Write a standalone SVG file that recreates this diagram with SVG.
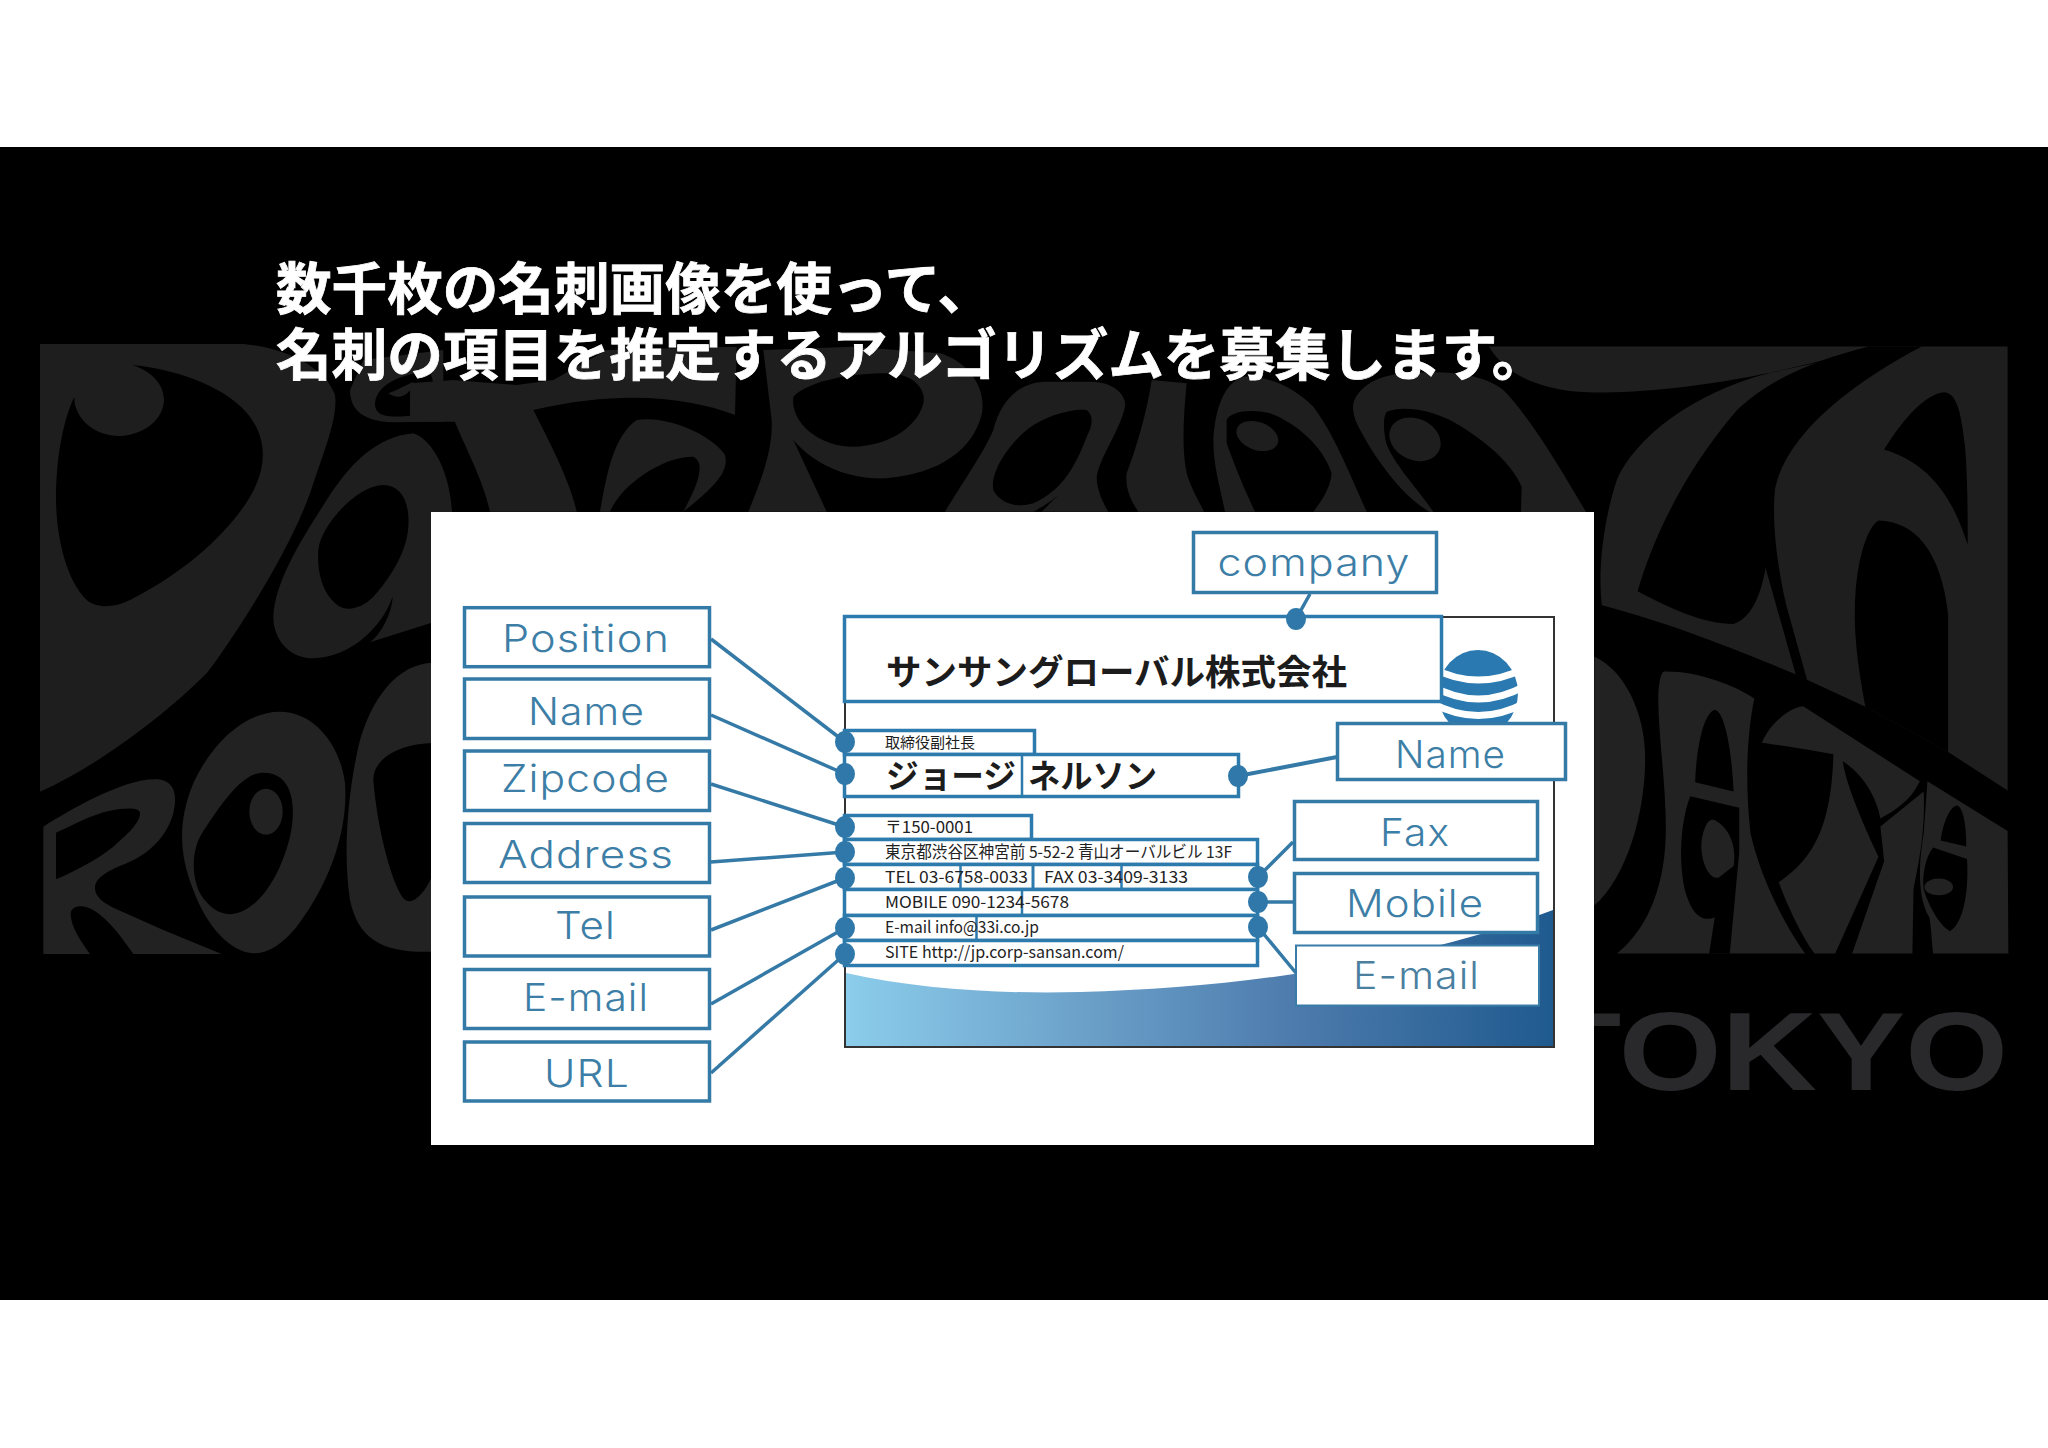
<svg xmlns="http://www.w3.org/2000/svg" width="2048" height="1448" viewBox="0 0 2048 1448">
<style>
.a{fill:#1e1e1e}.k{fill:#000}.g{fill:#222}
.b{fill:#fff;stroke:#347aa6;stroke-width:3.5}
.r{fill:#fff;stroke:#2d7aac;stroke-width:3.5}
.d{fill:#2f78a9}
.c line{stroke:#357aa6;stroke-width:3.5}
.l{font-family:Inter,"Noto Sans",sans-serif;font-size:38.5px;fill:#3d7ea6;font-weight:300;letter-spacing:1px}
.t{font-family:"Noto Sans CJK JP",sans-serif;font-size:16.5px;fill:#222}
.j{font-family:"Noto Sans CJK JP",sans-serif;fill:#1c1c1c}
.h{font-family:"Noto Sans CJK JP",sans-serif;font-size:55.6px;font-weight:700;fill:#fff;stroke:#fff;stroke-width:.8}
</style>
<defs>
<linearGradient id="w" gradientUnits="userSpaceOnUse" x1="845" y1="0" x2="1554" y2="0">
<stop offset="0" stop-color="#8ccdeb"/><stop offset=".35" stop-color="#6a9fc8"/><stop offset=".65" stop-color="#4b79ab"/><stop offset="1" stop-color="#1f5a8f"/>
</linearGradient>
</defs>
<rect width="2048" height="1448" fill="#fff"/>
<rect y="147" width="2048" height="1153" fill="#000"/>
<g id="art">
<g transform="translate(30 340) scale(.33333)">
<path class="a" d="M30 12L640 12C780 25 890 90 915 165C925 230 880 340 850 430C810 560 700 760 560 960L530 1000C400 1130 200 1280 30 1355Z"/>
<path class="k" d="M305 75C460 90 600 150 660 230C710 300 705 370 680 430C640 530 500 680 300 780C250 805 200 805 170 780C110 720 80 600 78 480C78 350 100 240 133 170C130 230 190 290 270 288C340 285 400 240 402 180C402 130 360 90 305 75Z"/>
<path class="a" d="M1150 280C1040 290 960 370 890 480C820 590 735 720 730 830C730 900 780 955 850 955C900 955 960 930 1000 895C1040 860 1070 820 1088 770C1085 820 1055 880 1020 907L1200 850L1266 830L1266 516C1260 400 1210 300 1150 280Z"/>
<path class="k" d="M1060 435C1110 435 1140 480 1135 560C1130 640 1075 720 1030 770C1000 800 960 815 930 800C880 770 860 700 865 630C870 560 980 435 1060 435Z"/>
<path class="a" d="M960 150C960 210 1000 245 1090 247L1240 245L1240 30L1000 60Z"/>
<path class="k" d="M1035 190C1040 130 1120 100 1200 95C1215 130 1210 170 1235 205C1170 230 1090 235 1060 225C1040 220 1035 205 1035 190Z"/>
<path class="a" d="M1075 160C1100 150 1130 135 1150 125C1145 160 1110 185 1075 160Z"/>
</g>
<g transform="translate(30 650) scale(.33333)">
<path class="g" fill-rule="evenodd" d="M40 530C120 480 280 385 380 388C430 390 445 430 430 490C410 560 360 610 290 640C240 660 195 680 195 715C195 740 220 760 260 778L400 840L575 912L310 912C280 870 240 810 190 780C160 762 125 765 122 790C122 830 150 870 180 912L40 912ZM78 548L78 688C140 660 200 630 250 590C290 555 330 520 330 490C330 470 280 475 240 482C180 495 130 525 78 548Z"/>
<path class="g" fill-rule="evenodd" d="M750 185C850 185 930 280 945 400C955 540 900 700 800 830C750 890 710 910 670 910C600 905 530 830 490 720C450 620 440 520 490 400C550 270 650 185 750 185ZM700 368C640 368 580 450 510 560C485 610 485 680 510 730C540 780 580 800 620 790C690 770 750 680 780 560C800 470 790 368 700 368Z"/>
<ellipse class="g" cx="708" cy="485" rx="50" ry="69"/>
<path class="g" fill-rule="evenodd" d="M1210 38C1100 40 1020 150 985 290C950 450 940 620 960 750C985 870 1060 910 1210 905ZM1210 280C1120 280 1030 320 1030 390C1040 520 1080 690 1120 745C1150 775 1190 720 1210 670Z"/>
</g>
<g transform="translate(420 340) scale(.33333)">
<path class="a" d="M-30 130L100 120L290 135L400 120L560 30L950 20L945 225C800 170 600 150 340 210C380 290 450 420 470 515L210 515C190 420 130 310 105 245L-30 245Z"/>
<path class="a" d="M540 515C560 400 580 290 650 240C750 225 880 290 915 345C930 400 870 450 790 515Z"/>
<path class="k" d="M570 515C600 440 720 350 820 350C860 370 830 440 790 515Z"/>
<path class="a" d="M1030 30L1300 20L1560 40C1630 60 1700 130 1686 220C1660 330 1560 400 1400 415C1280 420 1180 370 1120 300L1220 515L985 515C1020 430 1060 330 1055 240Z"/>
<path class="k" d="M1120 170C1170 120 1300 100 1400 100C1470 100 1520 140 1510 190C1490 270 1390 320 1300 320C1200 320 1110 250 1120 170Z"/>
</g>
<g transform="translate(930 340) scale(.33333)">
<path class="a" d="M45 515C90 440 160 340 190 270C210 190 260 130 340 125L490 125C560 130 590 170 585 200C570 270 510 350 500 410C500 450 520 490 535 515Z"/>
<path class="k" d="M470 210C490 225 490 255 470 290C440 370 400 450 310 490C260 505 210 490 190 450C180 400 230 320 290 270C340 230 420 205 470 210Z"/>
<path class="k" d="M390 460C370 480 350 500 335 515L310 515C340 500 370 480 390 460Z"/>
<path class="a" d="M665 120L770 130C760 230 755 330 770 400C785 450 810 490 822 515L625 515C600 480 585 440 590 400C620 320 650 220 665 120Z"/>
<path class="a" d="M940 110C1020 105 1100 150 1150 200C1210 280 1250 380 1310 515L885 515C870 440 850 380 850 300C855 210 880 130 940 110Z"/>
<path class="k" d="M890 240C900 215 960 205 1020 220C1100 250 1180 320 1205 400C1200 450 1170 490 1150 515L975 515C950 460 930 420 890 310Z"/>
<ellipse class="a" cx="982" cy="288" rx="65" ry="42" transform="rotate(20 982 288)"/>
<path class="a" d="M1270 190C1290 130 1360 100 1440 100C1540 90 1660 100 1720 150C1800 230 1900 400 1968 516L1500 516C1430 480 1340 370 1280 250C1270 225 1268 205 1270 190Z"/>
<path class="k" d="M1370 215C1420 195 1500 210 1560 240C1650 290 1740 360 1775 440L1773 516L1510 516C1460 440 1370 350 1365 290C1360 260 1360 230 1370 215Z"/>
<ellipse class="a" cx="1455" cy="298" rx="80" ry="62" transform="rotate(25 1455 298)"/>
</g>
<g transform="translate(1440 340) scale(.3764 .4655)">
<path class="a" d="M130 14L1140 14C1050 40 960 55 880 70C700 100 500 120 350 110C250 100 170 70 130 14Z"/>
<path class="a" d="M880 70C730 100 540 180 470 300C430 400 420 500 430 570C620 610 800 670 945 718L975 730L1130 788L1350 885L1508 968L1508 14L1140 14C1050 45 960 55 880 70Z"/>
<path class="k" d="M1140 14L1280 14C1100 90 920 200 890 320C880 400 900 500 920 570L975 730L945 718L865 490C850 560 820 600 780 610C700 610 620 580 525 540C560 440 640 290 790 150C880 80 1010 40 1140 14Z"/>
<path class="k" d="M1340 112C1375 115 1385 160 1395 230C1402 300 1402 380 1402 440C1370 360 1320 270 1180 235C1230 170 1290 115 1340 112Z"/>
<path class="k" d="M1165 388C1260 390 1330 450 1350 590L1350 885L1130 788C1110 700 1095 620 1105 530C1115 450 1140 400 1165 388Z"/>
<path class="g" d="M410 680C490 710 545 800 545 900C545 1010 500 1150 410 1215Z"/>
<path class="g" d="M595 712C680 710 780 740 835 770C815 850 810 950 825 1060C850 1150 910 1250 970 1318L470 1318C560 1260 600 1160 600 1050C600 950 580 850 580 770C580 730 590 712 595 712Z"/>
<path class="k" d="M730 795C755 795 775 880 780 970L678 950C680 880 700 800 730 795Z"/>
<path class="k" d="M665 980L795 1005L795 1100L770 1318L715 1318L730 1240C700 1250 670 1240 650 1180C630 1100 645 1020 665 980Z"/>
<path class="g" d="M725 1030C760 1040 790 1080 780 1130L740 1155C710 1160 690 1110 695 1075C700 1050 710 1030 725 1030Z"/>
<path class="g" d="M855 865C880 820 930 790 965 787L1275 948C1250 990 1210 1010 1170 1028C1160 980 1120 930 1070 905C1080 960 1130 1050 1165 1110L1050 1318L995 1318C960 1280 920 1210 900 1165C980 1120 1040 1060 1045 890C980 880 900 870 855 865Z"/>
<path class="g" d="M1170 1045L1285 970C1290 1060 1270 1130 1258 1180L1255 1318L1095 1318L1180 1120Z"/>
<path class="g" d="M1295 948L1508 1055L1510 1318L1310 1318C1305 1280 1305 1260 1300 1240C1270 1200 1270 1130 1285 1060Z"/>
<path class="k" d="M1375 1000C1395 1010 1398 1060 1398 1088L1330 1075C1335 1040 1355 1000 1375 1000Z"/>
<path class="k" d="M1310 1090L1400 1115C1405 1170 1395 1250 1355 1270C1330 1260 1300 1220 1285 1180C1280 1150 1290 1110 1310 1090Z"/>
<ellipse class="g" cx="1325" cy="1175" rx="38" ry="18"/>
</g>
<text transform="translate(2008 1090) scale(1.18 1)" text-anchor="end" font-family="Liberation Sans, sans-serif" font-weight="700" font-size="112" fill="#29292b">TOKYO</text>
</g>
<g id="heading">
<text class="h" x="276" y="309">数千枚の名刺画像を使って、</text>
<text class="h" x="276" y="375">名刺の項目を推定するアルゴリズムを募集します。</text>
</g>
<rect id="panel" x="431" y="512" width="1163" height="633" fill="#fff"/>
<g id="card">
<rect x="845" y="617" width="709" height="430" fill="#fff" stroke="#333" stroke-width="2"/>
<path fill="url(#w)" d="M846 973C920 990 1010 994 1080 992C1250 988 1420 960 1553 910L1553 1046L846 1046Z"/>
<g id="logo">
<ellipse cx="1478" cy="693" rx="40" ry="43" fill="#2a79b0"/>
<path d="M1432 668Q1478 692 1525 668M1432 686Q1478 712 1525 686M1432 703Q1478 728 1525 703" fill="none" stroke="#fff" stroke-width="7"/>
</g>
</g>
<g id="label-position"><rect class="b" x="464.5" y="607.7" width="245" height="59"/><text class="l" x="502" y="652" textLength="168" lengthAdjust="spacingAndGlyphs">Position</text></g>
<g id="label-name"><rect class="b" x="464.5" y="679" width="245" height="59.5"/><text class="l" x="528" y="725" textLength="117" lengthAdjust="spacingAndGlyphs">Name</text></g>
<g id="label-zipcode"><rect class="b" x="464.5" y="751" width="245" height="59.5"/><text class="l" x="501" y="792" textLength="169" lengthAdjust="spacingAndGlyphs">Zipcode</text></g>
<g id="label-address"><rect class="b" x="464.5" y="823.5" width="245" height="59"/><text class="l" x="498" y="868" textLength="176" lengthAdjust="spacingAndGlyphs">Address</text></g>
<g id="label-tel"><rect class="b" x="464.5" y="897" width="245" height="59"/><text class="l" x="555" y="939" textLength="61" lengthAdjust="spacingAndGlyphs">Tel</text></g>
<g id="label-email"><rect class="b" x="464.5" y="969.5" width="245" height="59"/><text class="l" x="523" y="1011" textLength="126" lengthAdjust="spacingAndGlyphs">E-mail</text></g>
<g id="label-url"><rect class="b" x="464.5" y="1042" width="245" height="59"/><text class="l" x="544" y="1087" textLength="86" lengthAdjust="spacingAndGlyphs">URL</text></g>
<g id="label-company"><rect class="b" x="1193.5" y="532.5" width="243" height="60"/><text class="l" x="1217.5" y="576" textLength="193" lengthAdjust="spacingAndGlyphs">company</text></g>
<g id="label-name-right"><rect class="b" x="1337.5" y="723.5" width="228" height="56"/><text class="l" x="1395" y="768" textLength="111" lengthAdjust="spacingAndGlyphs">Name</text></g>
<g id="label-fax"><rect class="b" x="1294.5" y="801.5" width="243" height="58"/><text class="l" x="1380" y="846" textLength="70" lengthAdjust="spacingAndGlyphs">Fax</text></g>
<g id="label-mobile"><rect class="b" x="1294.5" y="873.5" width="243" height="59"/><text class="l" x="1346" y="917" textLength="138" lengthAdjust="spacingAndGlyphs">Mobile</text></g>
<g id="label-email-right"><rect x="1296" y="945.5" width="243" height="60" fill="#fff" stroke="#3a7ca8" stroke-width="2"/><text class="l" x="1353" y="989" textLength="127" lengthAdjust="spacingAndGlyphs" style="fill:#4a7fa0">E-mail</text></g>
<g id="field-company"><rect class="r" x="844.5" y="616.5" width="597" height="85"/><text class="j" x="886" y="684.5" font-size="35.5" font-weight="700" textLength="461" lengthAdjust="spacingAndGlyphs">サンサングローバル株式会社</text></g>
<g id="field-position"><rect class="r" x="844.5" y="730.5" width="190" height="24"/><text class="j" x="885" y="748" font-size="15" textLength="90" lengthAdjust="spacingAndGlyphs">取締役副社長</text></g>
<g id="field-name"><rect class="r" x="844.5" y="754.5" width="394" height="42"/><line x1="1022" y1="754" x2="1022" y2="798" stroke="#2d7aac" stroke-width="2.5"/><text class="j" x="886" y="788" font-size="33" font-weight="700" textLength="130" lengthAdjust="spacingAndGlyphs">ジョージ</text><text class="j" x="1028" y="788" font-size="33" font-weight="700" textLength="129" lengthAdjust="spacingAndGlyphs">ネルソン</text></g>
<g id="field-zipcode"><rect class="r" x="844.5" y="815.5" width="187" height="24"/><text class="t" x="885" y="833" textLength="88" lengthAdjust="spacingAndGlyphs">〒150-0001</text></g>
<g id="field-address"><rect class="r" x="844.5" y="839.5" width="413" height="25"/><text class="t" x="885" y="858" textLength="347" lengthAdjust="spacingAndGlyphs">東京都渋谷区神宮前 5-52-2 青山オーバルビル 13F</text></g>
<g id="field-tel"><rect class="r" x="844.5" y="864.5" width="413" height="25"/><line x1="960.5" y1="864" x2="960.5" y2="890" stroke="#2d7aac" stroke-width="2.5"/><line x1="1033" y1="864" x2="1033" y2="890" stroke="#2d7aac" stroke-width="3"/><line x1="1121.5" y1="864" x2="1121.5" y2="890" stroke="#2d7aac" stroke-width="2.5"/><text class="t" x="885" y="883" textLength="143" lengthAdjust="spacingAndGlyphs">TEL 03-6758-0033</text><text class="t" x="1044" y="883" textLength="144" lengthAdjust="spacingAndGlyphs">FAX 03-3409-3133</text></g>
<g id="field-mobile"><rect class="r" x="844.5" y="889.5" width="413" height="26"/><line x1="1022" y1="889" x2="1022" y2="915" stroke="#2d7aac" stroke-width="2.5"/><text class="t" x="885" y="908" textLength="184" lengthAdjust="spacingAndGlyphs">MOBILE 090-1234-5678</text></g>
<g id="field-email"><rect class="r" x="844.5" y="915.5" width="413" height="25"/><line x1="976.5" y1="915" x2="976.5" y2="941" stroke="#2d7aac" stroke-width="2.5"/><text class="t" x="885" y="933" textLength="154" lengthAdjust="spacingAndGlyphs">E-mail info@33i.co.jp</text></g>
<g id="field-site"><rect class="r" x="844.5" y="940.5" width="413" height="25"/><text class="t" x="885" y="958" textLength="239" lengthAdjust="spacingAndGlyphs">SITE http://jp.corp-sansan.com/</text></g>
<g id="connectors" class="c">
<line x1="711" y1="639" x2="845" y2="742"/>
<line x1="711" y1="715" x2="845" y2="774"/>
<line x1="711" y1="784" x2="845" y2="827"/>
<line x1="711" y1="862" x2="845" y2="852"/>
<line x1="711" y1="930" x2="845" y2="878"/>
<line x1="711" y1="1004" x2="845" y2="928"/>
<line x1="711" y1="1073" x2="845" y2="954"/>
<line x1="1310" y1="594" x2="1296" y2="619"/>
<line x1="1337" y1="757" x2="1238" y2="776" style="stroke-width:4"/>
<line x1="1293" y1="842" x2="1258" y2="877"/>
<line x1="1293" y1="902" x2="1258" y2="902"/>
<line x1="1296" y1="973" x2="1258" y2="927"/>
<ellipse class="d" cx="845" cy="742" rx="10" ry="11"/>
<ellipse class="d" cx="845" cy="774" rx="10" ry="11"/>
<ellipse class="d" cx="845" cy="827" rx="10" ry="11"/>
<ellipse class="d" cx="845" cy="852" rx="10" ry="11"/>
<ellipse class="d" cx="845" cy="878" rx="10" ry="11"/>
<ellipse class="d" cx="845" cy="928" rx="10" ry="11"/>
<ellipse class="d" cx="845" cy="954" rx="10" ry="11"/>
<ellipse class="d" cx="1296" cy="619" rx="10" ry="11"/>
<ellipse class="d" cx="1238" cy="776" rx="10" ry="11"/>
<ellipse class="d" cx="1258" cy="877" rx="10" ry="11"/>
<ellipse class="d" cx="1258" cy="902" rx="10" ry="11"/>
<ellipse class="d" cx="1258" cy="927" rx="10" ry="11"/>
</g>
</svg>
